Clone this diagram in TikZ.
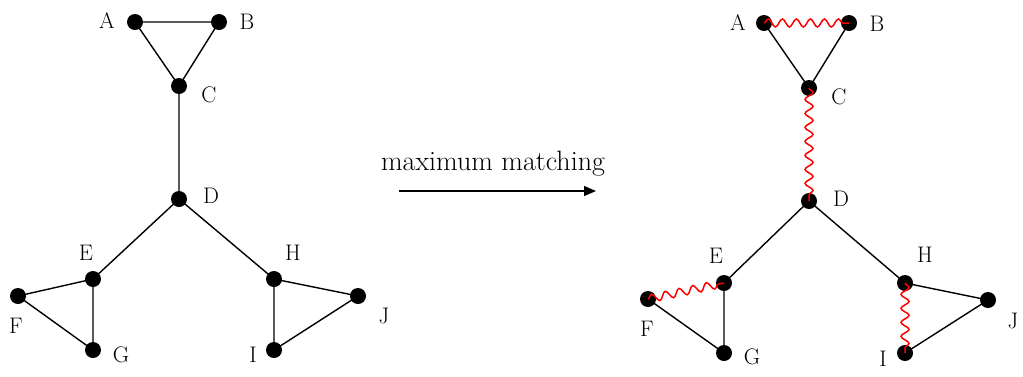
\documentclass[tikz,border=0pt]{standalone}
\usepackage{fontspec}
\setmainfont{Latin Modern Roman}
\usetikzlibrary{decorations.pathmorphing,arrows.meta}
\begin{document}
\begin{tikzpicture}[x=1pt,y=-1pt,
  vtx/.style={circle,fill=black,inner sep=0pt,minimum size=16pt},
  lbl/.style={inner sep=0pt,font=\fontsize{22.5}{26}\selectfont},
  edge/.style={line width=1.4pt},
  match/.style={red,line width=1.5pt,decorate,decoration={snake,segment length=14pt,amplitude=4pt}}]
\useasboundingbox (0,0) rectangle (1023,376);
% left graph
\node[vtx] (A) at (135,22) {};
\node[vtx] (B) at (219,22) {};
\node[vtx] (C) at (179,86) {};
\node[vtx] (D) at (179,199) {};
\node[vtx] (E) at (93,279) {};
\node[vtx] (F) at (18,296) {};
\node[vtx] (G) at (93,350) {};
\node[vtx] (H) at (274,279) {};
\node[vtx] (I) at (274,350) {};
\node[vtx] (J) at (358,296) {};
\node[lbl] (lA) at (107,21) {A};
\node[lbl] (lB) at (247,22) {B};
\node[lbl] (lC) at (209,95) {C};
\node[lbl] (lD) at (211,196) {D};
\node[lbl] (lE) at (86,253) {E};
\node[lbl] (lF) at (16,326) {F};
\node[lbl] (lG) at (121,355) {G};
\node[lbl] (lH) at (293,253) {H};
\node[lbl] (lI) at (253,355) {I};
\node[lbl] (lJ) at (384,316) {J};
\draw[edge] (A.center)--(B.center) (A.center)--(C.center) (B.center)--(C.center)
  (C.center)--(D.center) (D.center)--(E.center) (D.center)--(H.center)
  (E.center)--(F.center) (E.center)--(G.center) (F.center)--(G.center)
  (H.center)--(I.center) (H.center)--(J.center) (I.center)--(J.center);
% right graph
\node[vtx] (A2) at (764,23) {};
\node[vtx] (B2) at (849,23) {};
\node[vtx] (C2) at (809,88) {};
\node[vtx] (D2) at (809,201) {};
\node[vtx] (E2) at (724,283) {};
\node[vtx] (F2) at (648,299) {};
\node[vtx] (G2) at (724,353) {};
\node[vtx] (H2) at (905,283) {};
\node[vtx] (I2) at (905,353) {};
\node[vtx] (J2) at (988,300) {};
\node[lbl] (lA2) at (738,23) {A};
\node[lbl] (lB2) at (877,24) {B};
\node[lbl] (lC2) at (839,97) {C};
\node[lbl] (lD2) at (841,199) {D};
\node[lbl] (lE2) at (716,256) {E};
\node[lbl] (lF2) at (647,329) {F};
\node[lbl] (lG2) at (752,357) {G};
\node[lbl] (lH2) at (925,255) {H};
\node[lbl] (lI2) at (883,359) {I};
\node[lbl] (lJ2) at (1013,321) {J};
\draw[edge] (A2.center)--(C2.center) (B2.center)--(C2.center)
  (D2.center)--(E2.center) (D2.center)--(H2.center)
  (E2.center)--(G2.center) (F2.center)--(G2.center)
  (H2.center)--(J2.center) (I2.center)--(J2.center);
\draw[match] (A2.center)--(B2.center);
\draw[match] (C2.center)--(D2.center);
\draw[match] (F2.center)--(E2.center);
\draw[match] (H2.center)--(I2.center);
% arrow
\coordinate (s) at (399,191);
\coordinate (t) at (596,191);
\draw[line width=1.2pt,-{Triangle[length=12pt,width=10pt]}] (s)--(t);
\node[inner sep=0pt,font=\fontsize{28}{32}\selectfont] (ml) at (493,164) {maximum matching};
\end{tikzpicture}
\end{document}
